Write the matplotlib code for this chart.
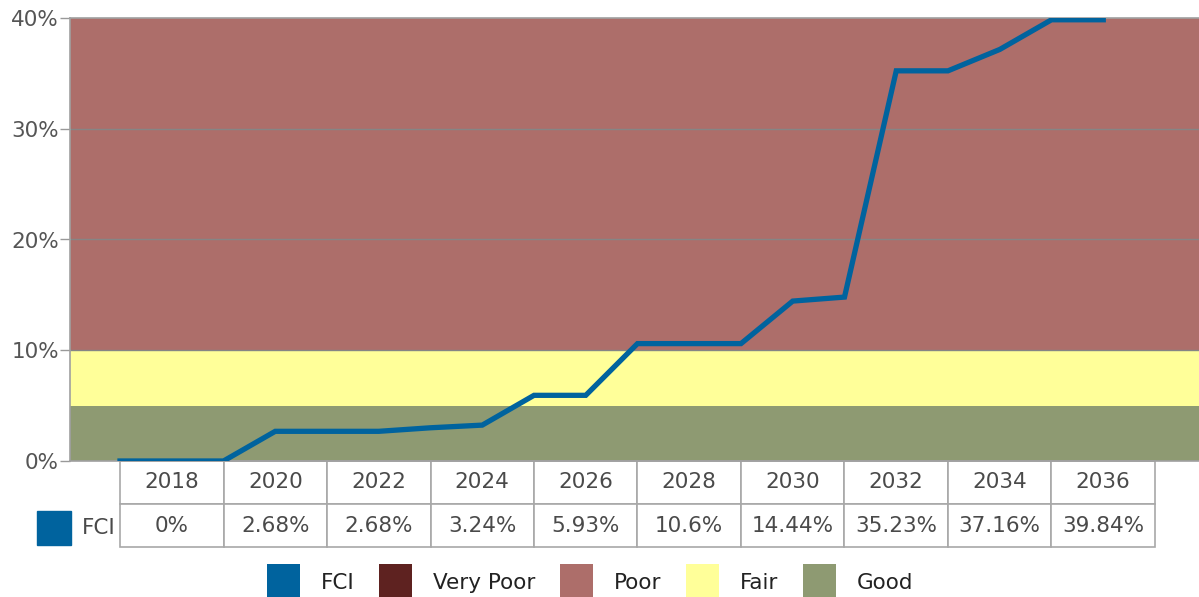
import matplotlib.pyplot as plt
from matplotlib.patches import Patch, Rectangle

plt.rcParams['font.family'] = ['DejaVu Sans']

# yearly FCI values (%)
years = [2017, 2018, 2019, 2020, 2021, 2022, 2023, 2024, 2025, 2026,
         2027, 2028, 2029, 2030, 2031, 2032, 2033, 2034, 2035, 2036]
fci = [0, 0, 0, 2.68, 2.68, 2.68, 3.0, 3.24, 5.93, 5.93,
       10.6, 10.6, 10.6, 14.44, 14.8, 35.23, 35.23, 37.16, 39.84, 39.84]

# table columns
table_years = ['2018', '2020', '2022', '2024', '2026', '2028', '2030', '2032', '2034', '2036']
table_vals = ['0%', '2.68%', '2.68%', '3.24%', '5.93%', '10.6%', '14.44%', '35.23%', '37.16%', '39.84%']

# condition bands (%)
band_names = ['Good', 'Fair', 'Poor']
band_lo = [0, 5, 10]
band_hi = [5, 10, 40]
band_colors = ['#8e9a72', '#ffff99', '#ad6e6a']

legend_names = ['FCI', 'Very Poor', 'Poor', 'Fair', 'Good']
legend_colors = ['#00639e', '#5e2220', '#ad6e6a', '#ffff99', '#8e9a72']

W, H = 1199, 597
fig = plt.figure(figsize=(W / 100, H / 100), dpi=100)
ax = fig.add_axes([70 / W, (H - 461) / H, (W - 70) / W, (461 - 18) / H])

for lo, hi, c in zip(band_lo, band_hi, band_colors):
    ax.axhspan(lo, hi, color=c, lw=0, zorder=0)
for g in [10, 20, 30]:
    ax.axhline(g, color='#858585', lw=1, zorder=1)

ax.plot(years, fci, color='#00639e', lw=3.8, solid_joinstyle='miter', zorder=3)

x0 = 2017 - 50 / 51.75
x1 = 2017 + (W - 120) / 51.75
ax.set_xlim(x0, x1)
ax.set_ylim(0, 40)
ax.set_yticks([0, 10, 20, 30, 40])
ax.set_yticklabels([f'{v}%' for v in [0, 10, 20, 30, 40]])
ax.set_xticks([])
ax.tick_params(axis='y', length=7, width=1, color='#999999', labelcolor='#555555',
               labelsize=15.5, pad=1)
for s in ['left', 'top', 'bottom']:
    ax.spines[s].set_color('#a0a0a0')
    ax.spines[s].set_linewidth(1.2)
ax.spines['right'].set_visible(False)

# data table under the plot
span = x1 - x0
tx0 = (2017 - x0) / span
tw = 20 / span
th = 86 / 443
tbl = ax.table(cellText=[table_years, table_vals], cellLoc='center',
               bbox=[tx0, -th, tw, th])
tbl.auto_set_font_size(False)
tbl.set_fontsize(15.5)
for (r, c), cell in tbl.get_celld().items():
    cell.set_edgecolor('#a8a8a8')
    cell.set_linewidth(1.2)
    cell.get_text().set_color('#4a4a4a')

# row label for FCI
fig.patches.append(Rectangle((37 / W, (H - 545) / H), 34 / W, 34 / H,
                             transform=fig.transFigure, color='#00639e'))
fig.text(82 / W, (H - 528) / H, 'FCI', fontsize=15.5, color='#4a4a4a', va='center')

handles = [Patch(facecolor=c, edgecolor='none') for c in legend_colors]
fig.legend(handles, legend_names, loc='center', bbox_to_anchor=(590 / W, 15 / H),
           ncol=5, frameon=False, fontsize=15.5, handlelength=1.55, handleheight=2.2,
           handletextpad=0.95, columnspacing=1.15, labelcolor='#222222')

fig.savefig('out.png', dpi=100)
